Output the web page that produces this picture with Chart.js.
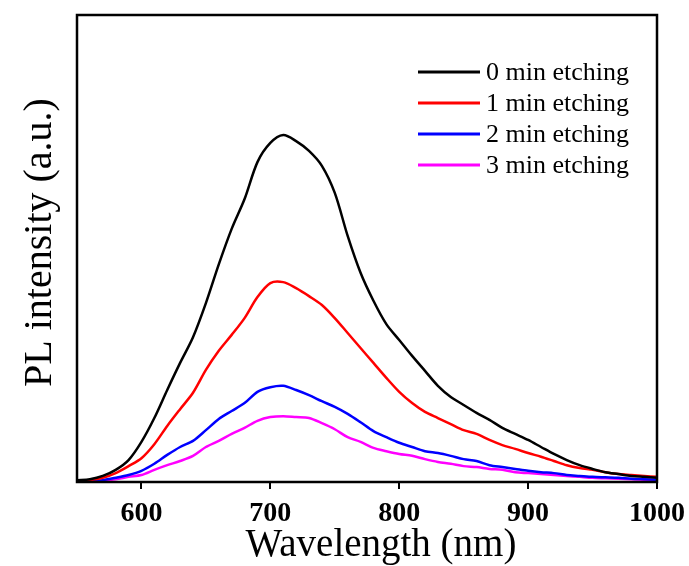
<!DOCTYPE html>
<html>
<head>
<meta charset="utf-8">
<script src="https://cdn.jsdelivr.net/npm/chart.js@4"></script>
<style>
  html, body { margin: 0; padding: 0; background: #fff; }
  #wrap { width: 689px; height: 566px; }
</style>
</head>
<body>
<div id="wrap"><canvas id="plChart" width="689" height="566"></canvas></div>
<script>
// wavelength (nm), one point every 10 nm
const wavelength = [
  550, 560, 570, 580, 590, 600, 610, 620, 630, 640,
  650, 660, 670, 680, 690, 700, 710, 720, 730, 740,
  750, 760, 770, 780, 790, 800, 810, 820, 830, 840,
  850, 860, 870, 880, 890, 900, 910, 920, 930, 940,
  950, 960, 970, 980, 990, 1000,
];

const etch0 = [
  0.4, 0.6, 1.3, 2.6, 4.7, 8.6, 13.7, 19.7, 25.5, 31.0,
  38.3, 46.6, 54.2, 60.6, 68.5, 72.6, 74.3, 73.0, 70.9, 67.7,
  61.9, 52.7, 44.8, 38.8, 33.8, 30.4, 27.0, 23.8, 20.6, 18.2,
  16.5, 14.8, 13.3, 11.6, 10.3, 9.0, 7.5, 6.0, 4.7, 3.6,
  2.8, 2.1, 1.7, 1.3, 1.1, 0.9,
];
const etch1 = [
  0.2, 0.4, 0.9, 1.9, 3.4, 5.1, 8.1, 12.0, 15.6, 19.1,
  24.0, 28.1, 31.5, 35.1, 39.6, 42.6, 42.8, 41.5, 39.8, 37.9,
  35.1, 31.9, 28.7, 25.5, 22.3, 19.3, 16.9, 15.0, 13.7, 12.4,
  11.1, 10.3, 9.0, 7.9, 7.1, 6.2, 5.4, 4.5, 3.6, 3.0,
  2.6, 2.1, 1.7, 1.5, 1.3, 1.1,
];
const etch2 = [
  0.1, 0.2, 0.4, 0.9, 1.5, 2.4, 3.9, 5.8, 7.5, 8.8,
  11.1, 13.5, 15.2, 16.9, 19.3, 20.3, 20.6, 19.7, 18.6, 17.3,
  16.1, 14.6, 12.8, 10.9, 9.6, 8.4, 7.5, 6.6, 6.2, 5.6,
  4.9, 4.5, 3.6, 3.2, 2.8, 2.4, 2.1, 1.9, 1.5, 1.3,
  1.1, 1.0, 0.9, 0.7, 0.6, 0.5,
];
const etch3 = [
  0.1, 0.1, 0.3, 0.6, 1.1, 1.5, 2.6, 3.6, 4.5, 5.6,
  7.5, 8.8, 10.3, 11.6, 13.1, 13.9, 14.1, 13.9, 13.7, 12.6,
  11.3, 9.6, 8.6, 7.3, 6.6, 6.0, 5.6, 4.9, 4.3, 3.9,
  3.4, 3.2, 2.8, 2.6, 2.1, 1.9, 1.7, 1.5, 1.3, 1.1,
  0.9, 0.8, 0.7, 0.6, 0.5, 0.4,
];

const seriesLabels = ["0 min etching", "1 min etching", "2 min etching", "3 min etching"];
const seriesColors = ["#000000", "#ff0000", "#0000ff", "#ff00ff"];
const xTickValues = [600, 700, 800, 900, 1000];
const xTitle = "Wavelength (nm)";
const yTitle = "PL intensity (a.u.)";

const serif = "'Liberation Serif', 'Times New Roman', serif";

function toPoints(values) {
  return values.map((v, i) => ({ x: wavelength[i], y: v }));
}

// box around the plot, axis titles, legend inside the top right corner
const framePlugin = {
  id: "frame",
  afterDatasetsDraw(chart) {
    const { ctx, chartArea } = chart;
    ctx.save();
    ctx.strokeStyle = "#000";
    ctx.lineWidth = 2.5;
    ctx.strokeRect(chartArea.left, chartArea.top,
      chartArea.right - chartArea.left, chartArea.bottom - chartArea.top);

    ctx.fillStyle = "#000";
    ctx.textAlign = "center";
    ctx.textBaseline = "alphabetic";
    ctx.font = "39px " + serif;
    ctx.fillText(xTitle, (chartArea.left + chartArea.right) / 2 + 14, 556);

    ctx.save();
    ctx.translate(51, (chartArea.top + chartArea.bottom) / 2 - 6);
    ctx.rotate(-Math.PI / 2);
    ctx.font = "40px " + serif;
    ctx.fillText(yTitle, 0, 0);
    ctx.restore();

    ctx.font = "26px " + serif;
    ctx.textBaseline = "middle";
    ctx.textAlign = "left";
    chart.data.datasets.forEach((ds, i) => {
      const y = chartArea.top + 57 + i * 31;
      const x0 = chartArea.right - 239;
      ctx.strokeStyle = ds.borderColor;
      ctx.lineWidth = 3;
      ctx.beginPath();
      ctx.moveTo(x0, y);
      ctx.lineTo(x0 + 62, y);
      ctx.stroke();
      ctx.fillStyle = "#000";
      ctx.fillText(ds.label, x0 + 68, y + 1);
    });
    ctx.restore();
  },
};

document.addEventListener("DOMContentLoaded", function () {
  const datasets = [etch0, etch1, etch2, etch3].map((vals, i) => ({
    label: seriesLabels[i],
    data: toPoints(vals),
    borderColor: seriesColors[i],
    backgroundColor: seriesColors[i],
    borderWidth: 2.5,
    pointRadius: 0,
    tension: 0.3,
    fill: false,
  }));

  const ctx = document.getElementById("plChart").getContext("2d");
  new Chart(ctx, {
    type: "line",
    data: { datasets: datasets },
    plugins: [framePlugin],
    options: {
      responsive: false,
      animation: false,
      layout: { padding: { left: 0, right: 32, top: 15, bottom: 0 } },
      plugins: {
        legend: { display: false },
        tooltip: { enabled: false },
      },
      scales: {
        x: {
          type: "linear",
          min: 550,
          max: 1000,
          afterBuildTicks: (scale) => {
            scale.ticks = xTickValues.map((v) => ({ value: v }));
          },
          afterFit: (scale) => {
            scale.height = 84;
            scale.paddingLeft = 0;
            scale.paddingRight = 0;
          },
          grid: {
            display: true,
            drawOnChartArea: false,
            drawTicks: true,
            tickLength: 7,
            color: "#000",
            lineWidth: 2,
          },
          border: { display: false },
          ticks: {
            color: "#000",
            padding: 8,
            maxRotation: 0,
            callback: (v) => String(v),
            font: { family: serif, size: 28, weight: "bold" },
          },
        },
        y: {
          min: 0,
          max: 100,
          afterFit: (scale) => {
            scale.width = 77;
          },
          grid: { display: false },
          border: { display: false },
          ticks: { display: false },
        },
      },
    },
  });
});
</script>
</body>
</html>
